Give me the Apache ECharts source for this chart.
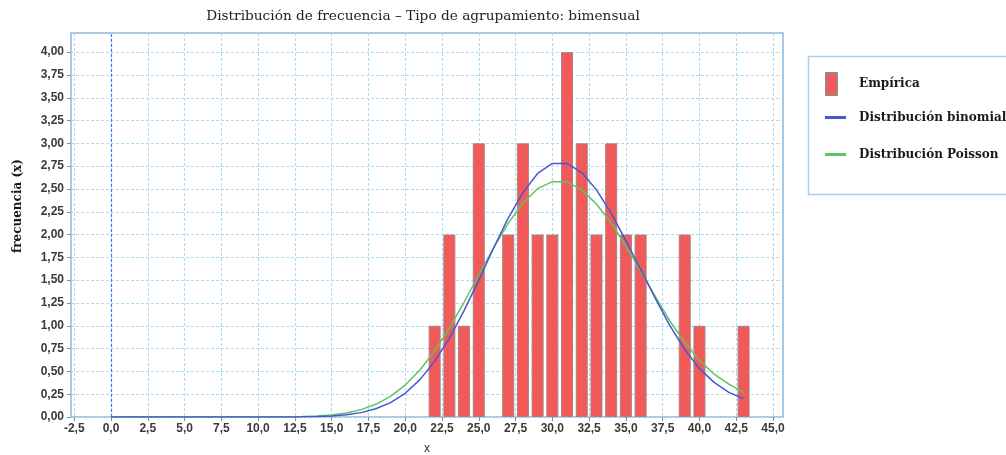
<!DOCTYPE html>
<html>
<head>
<meta charset="utf-8">
<script src="https://cdn.jsdelivr.net/npm/echarts@6/dist/echarts.min.js"></script>
<style>
  html, body { margin: 0; padding: 0; background: #ffffff; }
  #chart { width: 1006px; height: 455px; }
</style>
</head>
<body>
<div id="chart"></div>
<script>
// Observed counts per value (bimonthly grouping)
const empX = [22, 23, 24, 25, 27, 28, 29, 30, 31, 32, 33, 34, 35, 36, 39, 40, 43];
const empY = [1, 2, 1, 3, 2, 3, 2, 2, 4, 3, 2, 3, 2, 2, 2, 1, 1];

// Fitted curves, evaluated at x = 0 .. 43
const curveX = [0, 1, 2, 3, 4, 5, 6, 7, 8, 9, 10, 11, 12, 13, 14, 15, 16, 17, 18, 19, 20, 21,
                22, 23, 24, 25, 26, 27, 28, 29, 30, 31, 32, 33, 34, 35, 36, 37, 38, 39, 40, 41, 42, 43];
const binomialY = [0, 0, 0, 0, 0, 0, 0, 0, 0, 0, 0, 0, 0, 0.002, 0.005, 0.011, 0.024, 0.048, 0.09, 0.158, 0.26, 0.41,
                   0.61, 0.865, 1.167, 1.50, 1.85, 2.18, 2.46, 2.67, 2.78, 2.78, 2.68, 2.49, 2.235, 1.93, 1.62, 1.30, 1.00, 0.74, 0.53, 0.38, 0.27, 0.20];
const poissonY = [0, 0, 0, 0, 0, 0, 0, 0, 0, 0, 0, 0, 0.002, 0.005, 0.011, 0.023, 0.044, 0.081, 0.139, 0.226, 0.35, 0.516,
                  0.725, 0.976, 1.258, 1.557, 1.853, 2.123, 2.346, 2.503, 2.58, 2.578, 2.49, 2.335, 2.126, 1.88, 1.60, 1.32, 1.05, 0.82, 0.62, 0.47, 0.36, 0.27];

// Tick values
const xTicks = [-2.5, 0, 2.5, 5, 7.5, 10, 12.5, 15, 17.5, 20, 22.5, 25, 27.5, 30, 32.5, 35, 37.5, 40, 42.5, 45];
const yTicks = [0, 0.25, 0.5, 0.75, 1, 1.25, 1.5, 1.75, 2, 2.25, 2.5, 2.75, 3, 3.25, 3.5, 3.75, 4];

const pairs = (xs, ys) => xs.map((x, i) => [x, ys[i]]);

const chart = echarts.init(document.getElementById('chart'), null, { renderer: 'canvas' });

const gridLine = { show: true, lineStyle: { color: '#aadcf3', type: [3, 2], width: 1 } };
const legendText = { fontFamily: 'DejaVu Serif', fontWeight: 'bold', fontSize: 12, color: '#1a1a1a' };

chart.setOption({
  animation: false,
  backgroundColor: '#ffffff',
  title: {
    text: 'Distribución de frecuencia – Tipo de agrupamiento: bimensual',
    left: 423, top: 9, textAlign: 'center', padding: 0,
    textStyle: { fontFamily: 'DejaVu Serif', fontWeight: 'normal', fontSize: 13.7, color: '#222222' }
  },
  grid: {
    left: 71, top: 33, right: 223, bottom: 38,
    outerBoundsMode: 'none', containLabel: false,
    show: true, borderColor: '#93b6dd', borderWidth: 1.5, backgroundColor: '#ffffff'
  },
  xAxis: {
    type: 'value', min: -2.72, max: 45.68,
    name: 'x', nameLocation: 'middle', nameGap: 26,
    nameTextStyle: { fontFamily: 'Liberation Sans', fontSize: 12, color: '#333333' },
    axisLine: { show: false, onZero: false },
    axisTick: { show: true, length: 4, lineStyle: { color: '#8a8a8a' }, customValues: xTicks },
    axisLabel: {
      customValues: xTicks, margin: 6,
      fontFamily: 'Liberation Sans', fontWeight: 'bold', fontSize: 12, color: '#3a3a3a',
      formatter: v => v.toFixed(1).replace('.', ',')
    },
    splitLine: gridLine
  },
  yAxis: {
    type: 'value', min: 0, max: 4.21,
    axisLine: { show: false, onZero: false },
    axisTick: { show: true, length: 4, lineStyle: { color: '#8a8a8a' }, customValues: yTicks },
    axisLabel: {
      customValues: yTicks, margin: 7,
      fontFamily: 'Liberation Sans', fontWeight: 'bold', fontSize: 12, color: '#3a3a3a',
      formatter: v => v.toFixed(2).replace('.', ',')
    },
    splitLine: gridLine
  },
  legend: [
    {
      data: [{ name: 'Empírica', icon: 'rect' }],
      left: 825, top: 72, padding: 0, itemWidth: 11, itemHeight: 22,
      textStyle: Object.assign({ padding: [0, 0, 0, 17] }, legendText)
    },
    {
      data: [{ name: 'Distribución binomial', icon: 'rect' }],
      left: 825, top: 111.5, padding: 0, itemWidth: 21, itemHeight: 3,
      textStyle: Object.assign({ padding: [0, 0, 0, 8] }, legendText)
    },
    {
      data: [{ name: 'Distribución Poisson', icon: 'rect' }],
      left: 825, top: 148.5, padding: 0, itemWidth: 21, itemHeight: 3,
      textStyle: Object.assign({ padding: [0, 0, 0, 8] }, legendText)
    }
  ],
  graphic: [
    {
      type: 'rect', left: 806, top: 54, silent: true,
      shape: { width: 240, height: 138 },
      style: { fill: 'none', stroke: '#a9cdee', lineWidth: 1.5 }
    },
    {
      type: 'text', x: 18, y: 206, rotation: Math.PI / 2, silent: true,
      style: {
        text: 'frecuencia (x)', fontFamily: 'DejaVu Serif', fontWeight: 'bold', fontSize: 12,
        fill: '#1a1a1a', align: 'center', verticalAlign: 'middle'
      }
    }
  ],
  series: [
    {
      name: 'Empírica', type: 'bar', barWidth: 12, z: 2,
      data: pairs(empX, empY),
      itemStyle: { color: '#f25a5a', borderColor: '#a88282', borderWidth: 1 }
    },
    {
      name: 'Distribución binomial', type: 'line', z: 4,
      data: pairs(curveX, binomialY), showSymbol: false, symbol: 'none',
      itemStyle: { color: '#4757d2' },
      lineStyle: { color: '#4757d2', width: 1.5 },
      // dashed zero reference on the domain axis
      markLine: {
        silent: true, symbol: ['none', 'none'], label: { show: false },
        lineStyle: { color: '#3366ff', type: [3, 2], width: 1.2, opacity: 0.9 },
        emphasis: { disabled: true },
        data: [{ xAxis: 0 }]
      }
    },
    {
      name: 'Distribución Poisson', type: 'line', z: 3,
      data: pairs(curveX, poissonY), showSymbol: false, symbol: 'none',
      itemStyle: { color: '#5ec45e' },
      lineStyle: { color: '#5ec45e', width: 1.5 }
    }
  ]
});
</script>
</body>
</html>
